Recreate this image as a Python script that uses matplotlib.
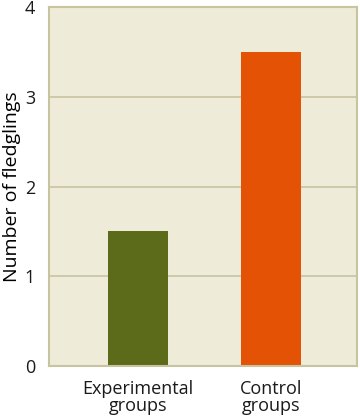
import matplotlib.pyplot as plt

groups = ['Experimental\ngroups', 'Control\ngroups']
fledglings = [1.5, 3.5]
colors = ['#5b6b1a', '#e35205']

plt.rcParams['font.family'] = ['Open Sans', 'DejaVu Sans']

fig = plt.figure(figsize=(3.6, 4.2), dpi=100)
ax = fig.add_axes([49/360, 54/420, 308/360, 359/420])
ax.set_facecolor('#eeebd9')

x = range(len(groups))
ax.bar(x, fledglings, width=0.45, color=colors, zorder=2)

ax.set_xlim(-0.67, 1.65)
ax.set_ylim(0, 4)
ax.set_yticks([0, 1, 2, 3, 4])
ax.set_xticks(list(x))
ax.set_xticklabels(groups, fontsize=13, linespacing=0.95)
ax.tick_params(axis='both', length=0, labelsize=13, colors='#1a1a1a')
ax.tick_params(axis='y', pad=10)
ax.tick_params(axis='x', pad=10)

ax.grid(axis='y', color='#c8c4a0', linewidth=1.2, zorder=1)
for s in ax.spines.values():
    s.set_color('#c8c4a0')
    s.set_linewidth(1.5)

ax.set_ylabel('Number of fledglings', fontsize=14, labelpad=3)

fig.savefig('out.png', dpi=100)
